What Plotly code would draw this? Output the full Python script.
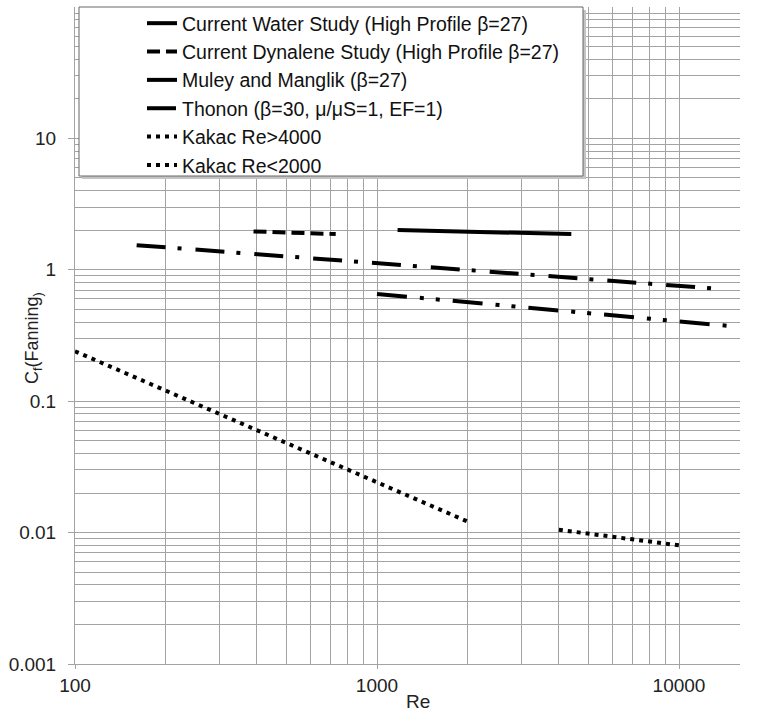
import plotly.graph_objects as go

# ---- data ----
water_re = [1170, 4400]
water_cf = [2.01, 1.87]

dynalene_re = [390, 730]
dynalene_cf = [1.96, 1.87]

muley_re = [1000, 15000]
muley_cf = [0.655, 0.372]

thonon_re = [160, 13400]
thonon_cf = [1.54, 0.717]

kakac_hi_re = [4000, 10000]
kakac_hi_cf = [0.0105, 0.0080]

kakac_lo_re = [100, 2000]
kakac_lo_cf = [0.24, 0.0121]

names = [
    "Current Water Study (High Profile β=27)",
    "Current Dynalene Study (High Profile β=27)",
    "Muley and Manglik (β=27)",
    "Thonon (β=30, μ/μS=1, EF=1)",
    "Kakac Re>4000",
    "Kakac Re<2000",
]

x_tickvals = [100, 1000, 10000]
x_ticktext = ["100", "1000", "10000"]
y_tickvals = [0.001, 0.01, 0.1, 1, 10]
y_ticktext = ["0.001", "0.01", "0.1", "1", "10"]

FONT = "Liberation Sans, Arial, sans-serif"

series = [
    (water_re, water_cf, "solid"),
    (dynalene_re, dynalene_cf, "13px,6px"),
    (muley_re, muley_cf, "30px,13px,4px,12px,4px,13px"),
    (thonon_re, thonon_cf, "29px,12px,4px,14px"),
    (kakac_hi_re, kakac_hi_cf, "4px,5px"),
    (kakac_lo_re, kakac_lo_cf, "4px,5px"),
]

fig = go.Figure()
for i, ((xs, ys, dash), nm) in enumerate(zip(series, names)):
    fig.add_trace(go.Scatter(
        x=xs, y=ys, mode="lines", name=nm, legendgroup=f"g{i}",
        line=dict(color="black", width=4, dash=dash),
    ))

W, H = 761, 723
L, R, T, B = 75, 21, 7, 59
pw, ph = W - L - R, H - T - B

def px_x(p):
    return (p - L) / pw

def px_y(p):
    return (H - B - p) / ph

grid = "#a3a3a3"
fig.update_layout(
    width=W, height=H,
    margin=dict(l=L, r=R, t=T, b=B, autoexpand=False),
    paper_bgcolor="white", plot_bgcolor="white",
    font=dict(family=FONT, size=19, color="#222"),
    showlegend=True,
    legend=dict(
        x=px_x(142), y=px_y(4), xanchor="left", yanchor="top",
        bgcolor="rgba(0,0,0,0)", borderwidth=0,
        font=dict(family=FONT, size=19.5, color="#111"),
        tracegroupgap=0, itemwidth=30,
    ),
    xaxis=dict(
        type="log", range=[2, 2 + pw / 302], automargin=False,
        tickvals=x_tickvals, ticktext=x_ticktext,
        showgrid=True, gridcolor=grid, gridwidth=1,
        minor=dict(dtick="D1", showgrid=True, gridcolor=grid, gridwidth=1),
        ticks="outside", ticklen=4, tickcolor=grid,
        showline=True, linecolor=grid, linewidth=1,
        zeroline=False,
        tickfont=dict(family=FONT, size=19, color="#222"),
    ),
    yaxis=dict(
        type="log", range=[-3, -3 + ph / 131.4], automargin=False,
        tickvals=y_tickvals, ticktext=y_ticktext,
        showgrid=True, gridcolor=grid, gridwidth=1,
        minor=dict(dtick="D1", showgrid=True, gridcolor=grid, gridwidth=1),
        ticks="outside", ticklen=6, tickcolor=grid,
        showline=True, linecolor=grid, linewidth=1,
        zeroline=False, ticklabelstandoff=8,
        tickfont=dict(family=FONT, size=19, color="#222"),
    ),
    annotations=[
        dict(text="Re", xref="paper", yref="paper", x=px_x(418), y=px_y(701),
             xanchor="center", yanchor="middle", showarrow=False,
             font=dict(family=FONT, size=19, color="#222")),
        dict(text="C<sub>f</sub>(Fanning<sub>)</sub>", xref="paper", yref="paper",
             x=px_x(33), y=px_y(338), xanchor="center", yanchor="middle",
             textangle=-90, showarrow=False,
             font=dict(family=FONT, size=18, color="#222")),
    ],
    shapes=[
        dict(type="rect", xref="paper", yref="paper", layer="above",
             x0=px_x(82), x1=px_x(586), y0=px_y(179), y1=px_y(10),
             fillcolor="#c4c4c4", line=dict(width=0)),
        dict(type="rect", xref="paper", yref="paper", layer="above",
             x0=px_x(79), x1=px_x(583), y0=px_y(176), y1=px_y(7),
             fillcolor="white", line=dict(color="#666", width=1)),
    ],
)

fig.write_html("out.html", config={"displayModeBar": False},
               post_script="document.body.style.margin='0px';document.body.style.padding='0px';")
